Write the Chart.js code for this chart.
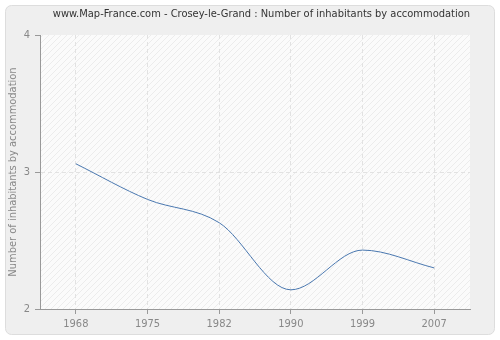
<!DOCTYPE html>
<html>
<head>
<meta charset="utf-8">
<script src="https://cdn.jsdelivr.net/npm/chart.js@4/dist/chart.umd.min.js"></script>
<style>
  html, body { margin: 0; padding: 0; background: #ffffff; }
  #wrap { width: 500px; height: 340px; }
</style>
</head>
<body>
<div id="wrap"><canvas id="chart" width="500" height="340"></canvas></div>
<script>
const years = ["1968", "1975", "1982", "1990", "1999", "2007"];
const inhabitants = [3.06, 2.80, 2.63, 2.14, 2.43, 2.30];
const yTicks = [2, 3, 4];
const chartTitle = "www.Map-France.com - Crosey-le-Grand : Number of inhabitants by accommodation";
const yTitle = "Number of inhabitants by accommodation";

const fontFamily = "'DejaVu Sans Condensed', 'DejaVu Sans', sans-serif";

// Hatched background pattern for the plot area
function makeHatch(ctx) {
  const c = document.createElement("canvas");
  c.width = 6; c.height = 6;
  const g = c.getContext("2d");
  g.fillStyle = "#fbfbfb";
  g.fillRect(0, 0, 6, 6);
  g.strokeStyle = "#ececec";
  g.lineWidth = 1;
  g.beginPath();
  g.moveTo(0, 6); g.lineTo(6, 0);
  g.moveTo(-3, 3); g.lineTo(3, -3);
  g.moveTo(3, 9); g.lineTo(9, 3);
  g.stroke();
  return ctx.createPattern(c, "repeat");
}

const backgroundPlugin = {
  id: "background",
  beforeDraw(chart) {
    const { ctx, chartArea } = chart;
    ctx.save();
    ctx.fillStyle = "#ffffff";
    ctx.fillRect(0, 0, chart.width, chart.height);
    // outer rounded panel
    ctx.fillStyle = "#efefef";
    ctx.strokeStyle = "#dddddd";
    ctx.lineWidth = 1;
    ctx.beginPath();
    ctx.roundRect(5.5, 5.5, 489, 329, 6);
    ctx.fill();
    ctx.stroke();
    // plot area
    ctx.fillStyle = makeHatch(ctx);
    ctx.fillRect(chartArea.left, chartArea.top, chartArea.right - chartArea.left, chartArea.bottom - chartArea.top);
    // title
    ctx.fillStyle = "#333333";
    ctx.font = "11px " + fontFamily;
    ctx.textAlign = "right";
    ctx.textBaseline = "middle";
    ctx.fillText(chartTitle, chartArea.right, 14);
    ctx.restore();
  }
};

new Chart(document.getElementById("chart").getContext("2d"), {
  type: "line",
  data: {
    labels: years,
    datasets: [{
      data: inhabitants,
      borderColor: "#4a78b0",
      borderWidth: 1,
      pointRadius: 0,
      fill: false,
      cubicInterpolationMode: "monotone"
    }]
  },
  options: {
    responsive: false,
    animation: false,
    layout: { padding: { left: 7, right: 30, top: 35, bottom: 0 } },
    plugins: { legend: { display: false }, tooltip: { enabled: false } },
    scales: {
      x: {
        offset: true,
        afterFit: (scale) => { scale.height = 31; },
        border: { display: true, color: "#999999", width: 1, dash: [4, 3] },
        grid: {
          color: "#e2e2e2",
          offset: false,
          tickLength: 5,
          tickColor: "#999999",
          tickBorderDash: []
        },
        ticks: {
          color: "#888888",
          font: { family: fontFamily, size: 11 },
          padding: 4,
          maxRotation: 0
        }
      },
      y: {
        min: 2,
        max: 4,
        afterFit: (scale) => { scale.width = 33; },
        afterBuildTicks: (scale) => { scale.ticks = yTicks.map(v => ({ value: v })); },
        border: { display: true, color: "#999999", width: 1, dash: [4, 3] },
        grid: {
          color: (c) => (c.tick && c.tick.value === 3) ? "#e2e2e2" : "rgba(0,0,0,0)",
          tickLength: 5,
          tickColor: "#999999",
          tickBorderDash: []
        },
        ticks: {
          color: "#888888",
          font: { family: fontFamily, size: 11 },
          padding: 5
        },
        title: {
          display: true,
          text: yTitle,
          color: "#888888",
          font: { family: fontFamily, size: 11 },
          padding: { top: 0, bottom: 2 }
        }
      }
    }
  },
  plugins: [backgroundPlugin]
});
</script>
</body>
</html>
